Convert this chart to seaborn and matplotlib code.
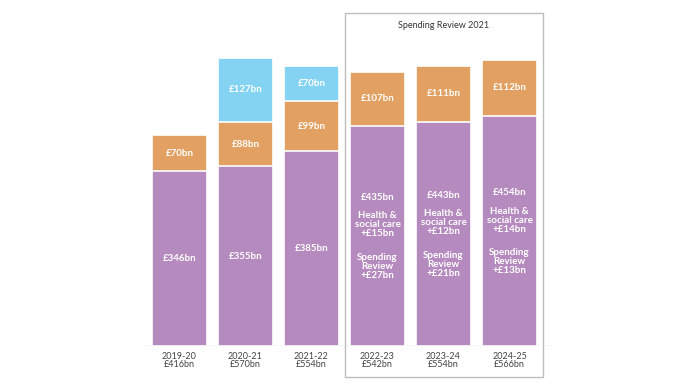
import matplotlib
matplotlib.use("Agg")
import matplotlib.pyplot as plt
import seaborn as sns
import pandas as pd
import numpy as np
from matplotlib.patches import Rectangle

years = ["2019-20", "2020-21", "2021-22", "2022-23", "2023-24", "2024-25"]
totals = ["£416bn", "£570bn", "£554bn", "£542bn", "£554bn", "£566bn"]
core = [346, 355, 385, 435, 443, 454]
other = [70, 88, 99, 107, 111, 112]
covid = [0, 127, 70, 0, 0, 0]
health_extra = [None, None, None, 15, 12, 14]
sr_extra = [None, None, None, 27, 21, 13]

PURPLE = "#B58ABE"
ORANGE = "#E2A162"
BLUE = "#84D3F2"

sns.set_theme(style="white")
plt.rcParams["font.family"] = ["Lato", "DejaVu Sans"]

df = pd.DataFrame({"year": years, "core": core, "other": other, "covid": covid})
df["lvl1"] = df["core"]
df["lvl2"] = df["core"] + df["other"]
df["lvl3"] = df["lvl2"] + df["covid"]
df["label"] = [f"{y}\n{t}" for y, t in zip(years, totals)]

fig = plt.figure(figsize=(6.93, 3.85), dpi=100)
ax = fig.add_axes([143 / 693, 1 - 346 / 385, 409 / 693, 333 / 385])

W = 0.83
sns.barplot(data=df, x="label", y="lvl3", color=BLUE, saturation=1, width=W,
            edgecolor="white", linewidth=1.2, ax=ax)
sns.barplot(data=df, x="label", y="lvl2", color=ORANGE, saturation=1, width=W,
            edgecolor="white", linewidth=1.2, ax=ax)
sns.barplot(data=df, x="label", y="lvl1", color=PURPLE, saturation=1, width=W,
            edgecolor="white", linewidth=1.2, ax=ax)

ax.set_xlim(-0.553, 5.644)
ax.set_ylim(0, 658)
ax.set_xlabel("")
ax.set_ylabel("")
ax.set_yticks([])
for s in ax.spines.values():
    s.set_visible(False)
ax.axhline(0, color="#DADADA", lw=1.0, zorder=5)
ax.tick_params(axis="x", length=0, pad=4, labelsize=6.5, labelcolor="#444444")
for t in ax.get_xticklabels():
    t.set_linespacing(0.95)

tkw = dict(color="white", fontweight="bold", fontsize=7, ha="center", va="center")
for i in range(len(years)):
    mid_core = core[i] / 2
    mid_other = core[i] + other[i] / 2
    ax.text(i, mid_other, f"£{other[i]}bn", **tkw)
    if covid[i]:
        ax.text(i, core[i] + other[i] + covid[i] / 2, f"£{covid[i]}bn", **tkw)
    if health_extra[i] is None:
        ax.text(i, mid_core, f"£{core[i]}bn", **tkw)
    else:
        ax.annotate(f"£{core[i]}bn", (i, mid_core), xytext=(0, 28),
                    textcoords="offset points", **tkw)
        ax.annotate(f"Health &\nsocial care\n+£{health_extra[i]}bn", (i, mid_core),
                    xytext=(0, 8), textcoords="offset points", linespacing=1.0, **tkw)
        ax.annotate(f"Spending\nReview\n+£{sr_extra[i]}bn", (i, mid_core),
                    xytext=(0, -22), textcoords="offset points", linespacing=1.0, **tkw)

# Spending Review box
box = Rectangle((344.7 / 693, 1 - 377 / 385), (543 - 344.7) / 693, (377 - 13) / 385,
                transform=fig.transFigure, fill=False, edgecolor="#BDBDBD", lw=1.0)
fig.patches.append(box)
fig.text(443.5 / 693, 1 - 26 / 385, "Spending Review 2021", ha="center", va="center",
         fontsize=6.5, color="#333333")

fig.savefig("out.png", dpi=100)
